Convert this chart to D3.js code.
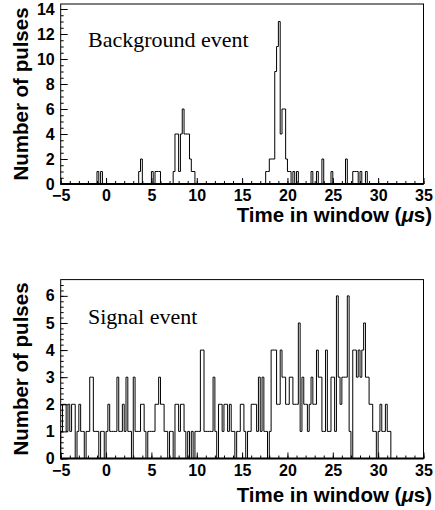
<!DOCTYPE html>
<html>
<head>
<meta charset="utf-8">
<script src="https://cdnjs.cloudflare.com/ajax/libs/d3/7.8.5/d3.min.js"></script>
<style>
  body { margin: 0; background: #fff; }
</style>
</head>
<body>
<div id="chart"></div>
<script>
// histogram binning: 200 bins of 0.2 us from -5 to 35
var binLow = -5, binHigh = 35, binWidth = 0.2;

// counts per bin, one row = 10 bins = 2 us
var backgroundCounts = [
    0, 0, 0, 0, 0, 0, 0, 0, 0, 0,
    0, 0, 0, 0, 0, 0, 0, 0, 0, 0,
    1, 0, 1, 0, 0, 0, 0, 0, 0, 0,
    0, 0, 0, 0, 0, 0, 0, 0, 0, 0,
    0, 0, 0, 1, 2, 0, 0, 0, 0, 0,
    1, 0, 1, 1, 1, 0, 0, 0, 0, 0,
    0, 0, 1, 4, 4, 1, 4, 6, 4, 4,
    4, 2, 1, 1, 0, 0, 0, 0, 0, 0,
    0, 0, 0, 0, 0, 0, 0, 0, 0, 0,
    0, 0, 0, 0, 0, 0, 0, 0, 0, 0,
    0, 0, 0, 0, 0, 0, 0, 0, 0, 0,
    0, 0, 0, 1, 1, 2, 2, 2, 9, 11,
    13, 4, 6, 6, 2, 1, 1, 0, 1, 0,
    1, 0, 0, 0, 0, 0, 0, 0, 1, 0,
    0, 1, 0, 0, 2, 0, 0, 0, 0, 1,
    0, 0, 0, 0, 0, 0, 0, 2, 0, 0,
    0, 1, 1, 1, 0, 1, 0, 0, 1, 0,
    0, 0, 0, 0, 0, 0, 0, 0, 0, 0,
    0, 0, 0, 0, 0, 0, 0, 0, 0, 0,
    0, 0, 0, 0, 0, 0, 0, 0, 0, 0
];

var signalCounts = [
    1, 2, 2, 1, 2, 1, 2, 2, 0, 1,
    2, 1, 1, 0, 1, 1, 3, 3, 1, 1,
    1, 0, 1, 1, 0, 1, 2, 1, 1, 1,
    1, 3, 1, 1, 2, 1, 3, 1, 1, 0,
    3, 1, 1, 1, 2, 2, 1, 0, 1, 1,
    1, 1, 2, 2, 3, 2, 2, 1, 1, 0,
    1, 1, 0, 2, 2, 1, 2, 2, 1, 0,
    1, 0, 1, 0, 1, 1, 1, 4, 4, 1,
    1, 1, 1, 1, 3, 1, 0, 2, 2, 1,
    2, 2, 1, 2, 1, 1, 0, 1, 1, 2,
    2, 1, 0, 1, 1, 2, 2, 2, 1, 3,
    1, 3, 1, 1, 0, 1, 4, 4, 4, 2,
    2, 4, 3, 3, 2, 2, 3, 3, 2, 2,
    2, 5, 1, 3, 2, 2, 1, 2, 3, 2,
    2, 4, 3, 3, 1, 1, 4, 1, 1, 3,
    3, 1, 6, 3, 2, 3, 3, 3, 6, 1,
    0, 4, 4, 3, 4, 3, 4, 5, 3, 3,
    2, 2, 1, 1, 0, 1, 2, 1, 1, 2,
    1, 1, 0, 0, 0, 0, 0, 0, 0, 0,
    0, 0, 0, 0, 0, 0, 0, 0, 0, 0
];

var xTicks = [-5, 0, 5, 10, 15, 20, 25, 30, 35];
var backgroundYTicks = [0, 2, 4, 6, 8, 10, 12, 14];
var signalYTicks = [0, 1, 2, 3, 4, 5, 6];

var labelFont = "Liberation Sans";

var svg = d3.select("#chart")
    .append("svg")
    .attr("width", 435)
    .attr("height", 510);

var x = d3.scaleLinear().domain([binLow, binHigh]).range([60.7, 423.5]);

// integer labels, real minus sign
var fmt = function (d) { return d < 0 ? "\u2212" + Math.abs(d) : String(d); };

function drawPanel(p) {
    var y = d3.scaleLinear().domain([0, p.yMax]).range([p.bottom, p.top]);
    var g = svg.append("g");

    // frame
    g.append("rect")
        .attr("x", x(binLow))
        .attr("y", p.top)
        .attr("width", x(binHigh) - x(binLow))
        .attr("height", p.bottom - p.top)
        .attr("fill", "none")
        .attr("stroke", "#000")
        .attr("stroke-width", 1);

    // histogram outline
    var pts = [{ t: binLow, v: 0 }];
    p.counts.forEach(function (c, i) {
        pts.push({ t: binLow + i * binWidth, v: c });
    });
    pts.push({ t: binHigh, v: 0 });

    var line = d3.line()
        .curve(d3.curveStepAfter)
        .x(function (d) { return x(d.t); })
        .y(function (d) { return y(d.v); });

    g.append("path")
        .datum(pts)
        .attr("d", line)
        .attr("fill", "none")
        .attr("stroke", "#000")
        .attr("stroke-width", 1);

    // minor x ticks
    g.append("g")
        .attr("transform", "translate(0," + p.bottom + ")")
        .call(d3.axisBottom(x).tickValues(d3.range(binLow, binHigh + 1, 1)).tickSize(-3).tickFormat(""))
        .call(function (a) { a.select(".domain").remove(); });

    // major x ticks
    g.append("g")
        .attr("transform", "translate(0," + p.bottom + ")")
        .call(d3.axisBottom(x).tickValues(xTicks).tickSize(-6).tickPadding(6).tickFormat(fmt))
        .call(function (a) { a.select(".domain").remove(); })
        .attr("font-family", labelFont)
        .attr("font-weight", "bold")
        .attr("font-size", 16);

    // minor y ticks
    g.append("g")
        .attr("transform", "translate(" + x(binLow) + ",0)")
        .call(d3.axisLeft(y).tickValues(d3.range(0, p.yMax, p.minorStep)).tickSize(-3).tickFormat(""))
        .call(function (a) { a.select(".domain").remove(); });

    // major y ticks
    g.append("g")
        .attr("transform", "translate(" + x(binLow) + ",0)")
        .call(d3.axisLeft(y).tickValues(p.yTicks).tickSize(-7).tickPadding(6).tickFormat(fmt))
        .call(function (a) { a.select(".domain").remove(); })
        .attr("font-family", labelFont)
        .attr("font-weight", "bold")
        .attr("font-size", 16);

    // heavier bottom axis line
    g.append("line")
        .attr("x1", x(binLow))
        .attr("x2", x(binHigh))
        .attr("y1", p.bottom)
        .attr("y2", p.bottom)
        .attr("stroke", "#000")
        .attr("stroke-width", 2);

    // event label
    g.append("text")
        .attr("x", 88)
        .attr("y", p.labelY)
        .attr("font-family", "Liberation Serif")
        .attr("font-size", 22)
        .text(p.label);

    // y axis title
    g.append("text")
        .attr("transform", "translate(28," + ((p.top + p.bottom) / 2) + ") rotate(-90)")
        .attr("text-anchor", "middle")
        .attr("font-family", labelFont)
        .attr("font-weight", "bold")
        .attr("font-size", 20.5)
        .text("Number of pulses");

    // x axis title
    var xt = g.append("text")
        .attr("x", 432)
        .attr("y", p.titleY)
        .attr("text-anchor", "end")
        .attr("font-family", labelFont)
        .attr("font-weight", "bold")
        .attr("font-size", 20.5);
    xt.append("tspan").text("Time in window (");
    xt.append("tspan").attr("font-style", "italic").text("\u03bc");
    xt.append("tspan").text("s)");
}

drawPanel({
    counts: backgroundCounts,
    yTicks: backgroundYTicks,
    yMax: 14.4,
    minorStep: 0.5,
    top: 4,
    bottom: 184,
    label: "Background event",
    labelY: 47,
    titleY: 222
});

drawPanel({
    counts: signalCounts,
    yTicks: signalYTicks,
    yMax: 6.6,
    minorStep: 0.2,
    top: 279.6,
    bottom: 458.5,
    label: "Signal event",
    labelY: 324,
    titleY: 502
});
</script>
</body>
</html>
